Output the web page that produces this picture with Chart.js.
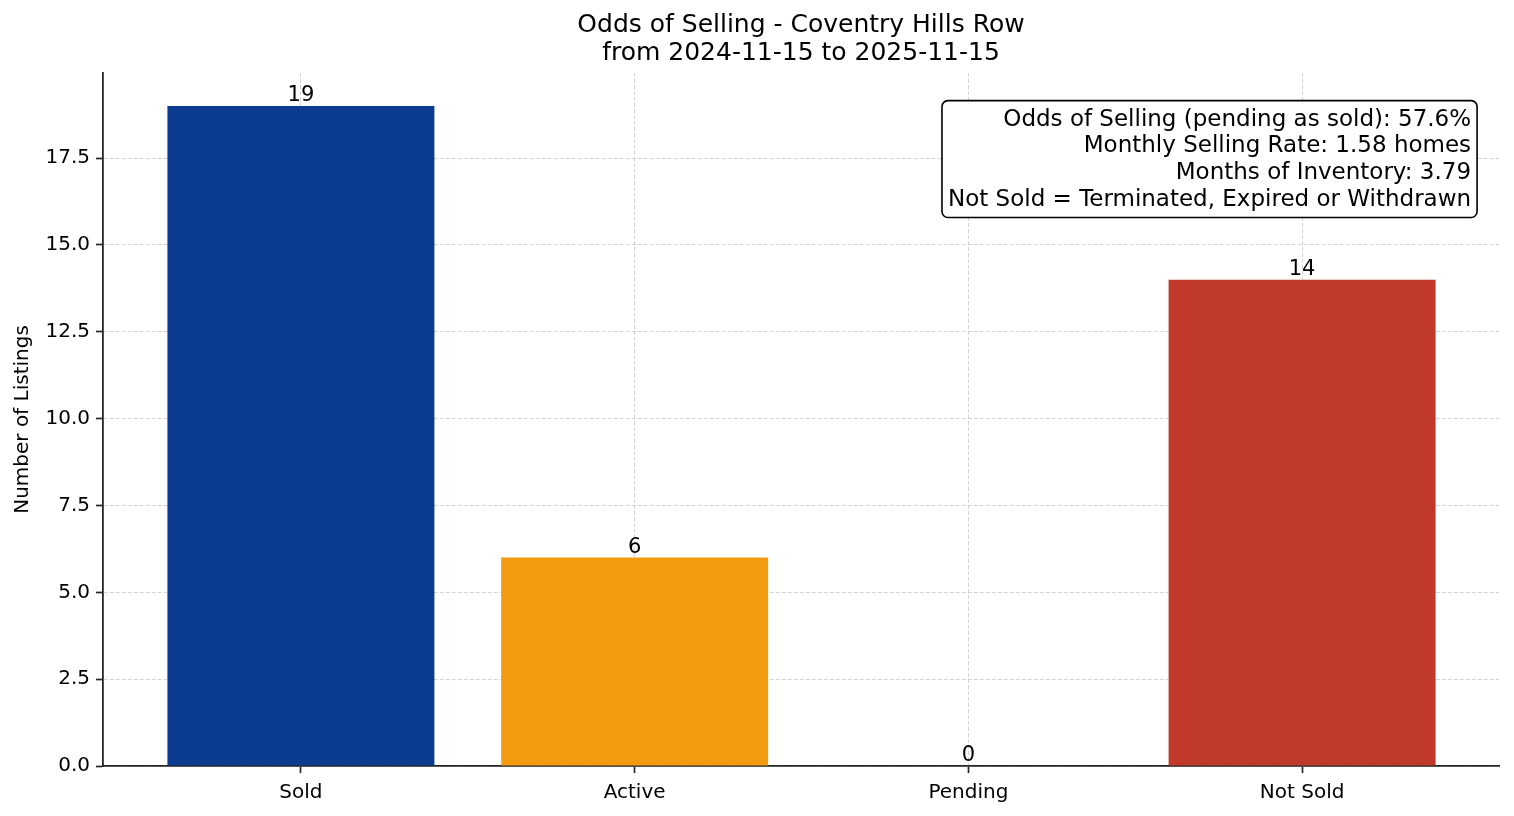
<!DOCTYPE html>
<html>
<head>
<meta charset="utf-8">
<script src="https://cdn.jsdelivr.net/npm/chart.js@4.4.1/dist/chart.umd.min.js"></script>
<style>
  html, body { margin: 0; padding: 0; background: #ffffff; }
  #wrap { width: 1514px; height: 816px; }
</style>
</head>
<body>
<div id="wrap"><canvas id="c" width="1514" height="816"></canvas></div>
<script>
const categories = ["Sold", "Active", "Pending", "Not Sold"];
const counts = [19, 6, 0, 14];
const barColors = ["#0B3C8F", "#F39C12", "#8E44AD", "#C0392B"];
const yTicks = [0, 2.5, 5, 7.5, 10, 12.5, 15, 17.5];
const titleLines = ["Odds of Selling - Coventry Hills Row", "from 2024-11-15 to 2025-11-15"];
const infoLines = [
  "Odds of Selling (pending as sold): 57.6%",
  "Monthly Selling Rate: 1.58 homes",
  "Months of Inventory: 3.79",
  "Not Sold = Terminated, Expired or Withdrawn"
];

const FONT = "'DejaVu Sans', sans-serif";
const GRID = "rgba(176,176,176,0.55)";
const AXIS = "#262626";

const axesTitle = {
  id: 'axesTitle',
  afterDraw(chart) {
    const ctx = chart.ctx;
    const a = chart.chartArea;
    const cx = (a.left + a.right) / 2;
    ctx.save();
    ctx.font = "25px " + FONT;
    ctx.fillStyle = "#000";
    ctx.textAlign = "center";
    ctx.textBaseline = "middle";
    titleLines.forEach((t, i) => ctx.fillText(t, cx, 25 + i * 28));
    ctx.restore();
  }
};

const barLabels = {
  id: 'barLabels',
  afterDatasetsDraw(chart) {
    const ctx = chart.ctx;
    const meta = chart.getDatasetMeta(0);
    ctx.save();
    ctx.font = "21px " + FONT;
    ctx.fillStyle = "#000";
    ctx.textAlign = "center";
    ctx.textBaseline = "alphabetic";
    meta.data.forEach((el, i) => {
      ctx.fillText(String(counts[i]), el.x, el.y - 5);
    });
    ctx.restore();
  }
};

const infoBox = {
  id: 'infoBox',
  afterDraw(chart) {
    const ctx = chart.ctx;
    const a = chart.chartArea;
    const rightX = a.left + 0.98 * (a.right - a.left);
    const topY = a.bottom - 0.95 * (a.bottom - a.top);
    const lh = 26.7;
    ctx.save();
    ctx.font = "23px " + FONT;
    let maxW = 0;
    infoLines.forEach(t => { maxW = Math.max(maxW, ctx.measureText(t).width); });
    const pad = 6;
    const bx = rightX - maxW - pad, by = topY - 7;
    const bw = maxW + 2 * pad, bh = infoLines.length * lh + 10;
    ctx.beginPath();
    ctx.roundRect(bx, by, bw, bh, 6);
    ctx.fillStyle = "#ffffff";
    ctx.fill();
    ctx.lineWidth = 1.6;
    ctx.strokeStyle = "#000";
    ctx.stroke();
    ctx.fillStyle = "#000";
    ctx.textAlign = "right";
    ctx.textBaseline = "middle";
    infoLines.forEach((t, i) => {
      ctx.fillText(t, rightX, topY + 12 + i * lh);
    });
    ctx.restore();
  }
};

new Chart(document.getElementById('c'), {
  type: 'bar',
  data: {
    datasets: [{
      data: categories.map((c, i) => ({ x: i, y: counts[i] })),
      backgroundColor: barColors,
      borderWidth: 0,
      categoryPercentage: 1.0,
      barPercentage: 0.8
    }]
  },
  options: {
    responsive: false,
    animation: false,
    devicePixelRatio: 1,
    layout: { padding: { left: 0, right: 15, top: 73, bottom: 0 } },
    plugins: {
      legend: { display: false },
      tooltip: { enabled: false },
      title: { display: false }
    },
    scales: {
      x: {
        type: 'linear',
        min: -0.593,
        max: 3.59,
        offset: false,
        z: 1,
        afterBuildTicks: (s) => { s.ticks = categories.map((c, i) => ({ value: i })); },
        afterFit: (s) => { s.height = 50; },
        ticks: {
          callback: (v) => categories[v] ?? '',
          color: "#000",
          font: { family: FONT, size: 20 },
          padding: 8,
          maxRotation: 0,
          autoSkip: false
        },
        grid: {
          offset: false,
          color: GRID,
          lineWidth: 1,
          tickColor: AXIS,
          tickLength: 7,
          tickWidth: 1.7
        },
        border: { display: true, color: AXIS, width: 1.8, dash: [4, 2] }
      },
      y: {
        type: 'linear',
        min: 0,
        max: 19.95,
        z: 1,
        afterBuildTicks: (s) => { s.ticks = yTicks.map(v => ({ value: v })); },
        afterFit: (s) => { s.width = 103; },
        ticks: {
          callback: (v) => Number(v).toFixed(1),
          color: "#000",
          font: { family: FONT, size: 20 },
          padding: 6
        },
        grid: {
          color: GRID,
          lineWidth: 1,
          tickColor: AXIS,
          tickLength: 7,
          tickWidth: 1.7
        },
        border: { display: true, color: AXIS, width: 1.8, dash: [4, 2] },
        title: {
          display: true,
          text: "Number of Listings",
          color: "#000",
          font: { family: FONT, size: 20 },
          padding: { top: 11, bottom: 0 }
        }
      }
    }
  },
  plugins: [barLabels, infoBox, axesTitle]
});
</script>
</body>
</html>
